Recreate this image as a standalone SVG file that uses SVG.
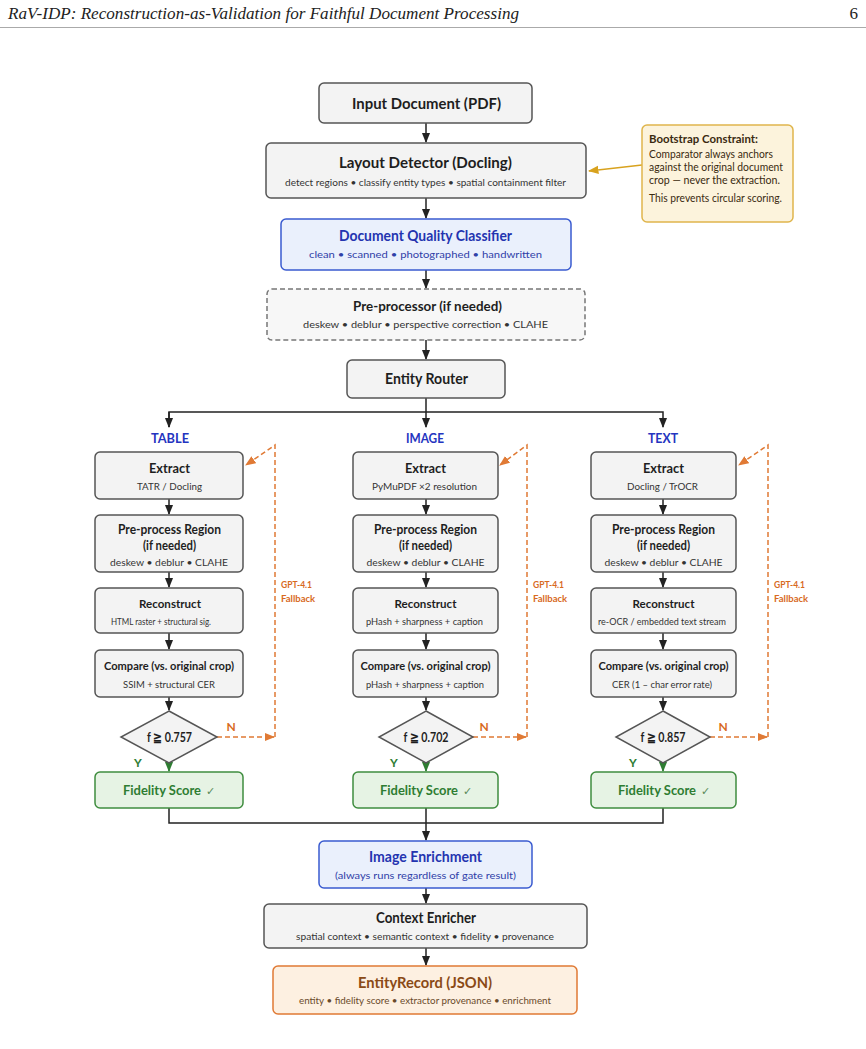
<svg xmlns="http://www.w3.org/2000/svg" width="866" height="1049" viewBox="0 0 866 1049" xml:space="preserve">
<defs>
<style>
.hdr{font-family:"Liberation Serif",serif;font-style:italic;font-size:17px;fill:#222}
.box{fill:#f3f3f3;stroke:#555;stroke-width:1.5}
.blue{fill:#eaf0fc;stroke:#3a5bd0;stroke-width:1.5}
.green{fill:#e6f3e4;stroke:#3f8d3f;stroke-width:1.5}
.orange{fill:#fdf0e1;stroke:#e07a35;stroke-width:1.5}
.note{fill:#fcf3dc;stroke:#dfb54c;stroke-width:1.5}
.t{font-family:Lato,"Open Sans",sans-serif;font-weight:bold;fill:#1e1e1e;text-anchor:middle}
.s{font-family:Lato,"Open Sans",sans-serif;fill:#333;text-anchor:middle;font-size:10px}
.bt{fill:#2434b0}
.bs{fill:#3040a8}
.gt{fill:#2e7d32}
.fs{font-family:Lato,"Open Sans",sans-serif;font-weight:bold;font-size:13.5px;fill:#2e7d32}
.chk{font-family:"DejaVu Sans",sans-serif;font-size:11px;fill:#5a8a5a}
.ot{fill:#8a4a16}
.os{fill:#6a4a2a}
.lab{font-family:Lato,"Open Sans",sans-serif;font-weight:bold;font-size:14px;fill:#2434c0;text-anchor:middle}
.gpt{font-family:Lato,"Open Sans",sans-serif;font-weight:bold;font-size:9.5px;fill:#d86a1e}
.N{font-family:Lato,"Open Sans",sans-serif;font-weight:bold;font-size:12px;fill:#d86a1e;text-anchor:middle}
.Y{font-family:Lato,"Open Sans",sans-serif;font-weight:bold;font-size:12px;fill:#2e7d32;text-anchor:middle}
.ln{fill:none;stroke:#222;stroke-width:1.5}
.dash{fill:none;stroke:#e07a35;stroke-width:1.5;stroke-dasharray:5 3}
.nt{font-family:Lato,"Open Sans",sans-serif;font-size:11px;fill:#3a2a10}
</style>
<marker id="ab" viewBox="0 0 10 10" refX="9" refY="5" markerWidth="7" markerHeight="7" orient="auto"><path d="M0,1 L10,5 L0,9 z" fill="#222"/></marker>
<marker id="ag" viewBox="0 0 10 10" refX="9" refY="5" markerWidth="7" markerHeight="7" orient="auto"><path d="M0,1 L10,5 L0,9 z" fill="#2e7d32"/></marker>
<marker id="ao" viewBox="0 0 10 10" refX="9" refY="5" markerWidth="7" markerHeight="7" orient="auto"><path d="M0,1 L10,5 L0,9 z" fill="#e07a35"/></marker>
<marker id="ay" viewBox="0 0 10 10" refX="9" refY="5" markerWidth="7" markerHeight="7" orient="auto"><path d="M0,1 L10,5 L0,9 z" fill="#d8a21e"/></marker>
</defs>
<rect width="866" height="1049" fill="#ffffff"/>
<g id="header">
<text class="hdr" x="8" y="19" textLength="511" lengthAdjust="spacingAndGlyphs">RaV-IDP: Reconstruction-as-Validation for Faithful Document Processing</text>
<text class="hdr" x="858" y="19" text-anchor="end" style="font-style:normal">6</text>
<line x1="0" y1="27.5" x2="866" y2="27.5" stroke="#aaa" stroke-width="1"/>
</g>

<g id="connectors">
<line class="ln" x1="426" y1="123" x2="426" y2="142" marker-end="url(#ab)"/>
<line class="ln" x1="426" y1="198" x2="426" y2="218" marker-end="url(#ab)"/>
<line class="ln" x1="426" y1="270" x2="426" y2="288" marker-end="url(#ab)"/>
<line class="ln" x1="426" y1="340" x2="426" y2="359" marker-end="url(#ab)"/>
<path class="ln" d="M426,398 V412"/>
<path class="ln" d="M169,427 V412 H663 V427" marker-end="url(#ab)"/>
<path class="ln" d="M169,412 V427" marker-end="url(#ab)"/>
<path class="ln" d="M426,412 V427" marker-end="url(#ab)"/>
<line x1="642" y1="165" x2="589" y2="171" stroke="#d8a21e" stroke-width="1.5" marker-end="url(#ay)"/>
<g>
<line class="ln" x1="169" y1="499" x2="169" y2="514" marker-end="url(#ab)"/>
<line class="ln" x1="169" y1="572" x2="169" y2="587" marker-end="url(#ab)"/>
<line class="ln" x1="169" y1="633" x2="169" y2="649" marker-end="url(#ab)"/>
<line class="ln" x1="169" y1="697" x2="169" y2="710" marker-end="url(#ab)"/>
<line x1="169" y1="763" x2="169" y2="771" stroke="#2e7d32" stroke-width="1.5" marker-end="url(#ag)"/>
<path class="dash" d="M217,737 H274" marker-end="url(#ao)"/>
<path class="dash" d="M275,737 V445 L246,465" marker-end="url(#ao)"/>
</g>
<g>
<line class="ln" x1="426" y1="499" x2="426" y2="514" marker-end="url(#ab)"/>
<line class="ln" x1="426" y1="572" x2="426" y2="587" marker-end="url(#ab)"/>
<line class="ln" x1="426" y1="633" x2="426" y2="649" marker-end="url(#ab)"/>
<line class="ln" x1="426" y1="697" x2="426" y2="710" marker-end="url(#ab)"/>
<line x1="426" y1="763" x2="426" y2="771" stroke="#2e7d32" stroke-width="1.5" marker-end="url(#ag)"/>
<path class="dash" d="M473,737 H526" marker-end="url(#ao)"/>
<path class="dash" d="M527,737 V445 L500,465" marker-end="url(#ao)"/>
</g>
<g>
<line class="ln" x1="663" y1="499" x2="663" y2="514" marker-end="url(#ab)"/>
<line class="ln" x1="663" y1="572" x2="663" y2="587" marker-end="url(#ab)"/>
<line class="ln" x1="663" y1="633" x2="663" y2="649" marker-end="url(#ab)"/>
<line class="ln" x1="663" y1="697" x2="663" y2="710" marker-end="url(#ab)"/>
<line x1="663" y1="763" x2="663" y2="771" stroke="#2e7d32" stroke-width="1.5" marker-end="url(#ag)"/>
<path class="dash" d="M710,737 H767" marker-end="url(#ao)"/>
<path class="dash" d="M768,737 V445 L739,465" marker-end="url(#ao)"/>
</g>
<path class="ln" d="M169,808 V823 H663 V808"/>
<line class="ln" x1="426" y1="808" x2="426" y2="840" marker-end="url(#ab)"/>
<line class="ln" x1="426" y1="888" x2="426" y2="903" marker-end="url(#ab)"/>
<line class="ln" x1="426" y1="948" x2="426" y2="965" marker-end="url(#ab)"/>
</g>

<g id="input">
<rect class="box" x="319" y="83" width="213" height="40" rx="5"/>
<text class="t" x="426.5" y="109" font-size="15.5" textLength="149" lengthAdjust="spacingAndGlyphs">Input Document  (PDF)</text>
</g>
<g id="layout">
<rect class="box" x="266" y="143" width="320" height="55" rx="5"/>
<text class="t" x="425.5" y="168" font-size="15.5" textLength="173" lengthAdjust="spacingAndGlyphs">Layout Detector  (Docling)</text>
<text class="s" x="425.5" y="185.5" textLength="281" lengthAdjust="spacingAndGlyphs">detect regions  •  classify entity types  •  spatial containment filter</text>
</g>
<g id="bootstrap">
<rect class="note" x="642" y="125" width="151" height="97" rx="5"/>
<text class="nt" x="649" y="143" font-weight="bold" fill="#3a2208" textLength="109" lengthAdjust="spacingAndGlyphs">Bootstrap Constraint:</text>
<text class="nt" x="649" y="157.5" textLength="124" lengthAdjust="spacingAndGlyphs">Comparator always anchors</text>
<text class="nt" x="649" y="170.5" textLength="134" lengthAdjust="spacingAndGlyphs">against the original document</text>
<text class="nt" x="649" y="183.5" textLength="131" lengthAdjust="spacingAndGlyphs">crop — never the extraction.</text>
<text class="nt" x="649" y="202" textLength="133" lengthAdjust="spacingAndGlyphs">This prevents circular scoring.</text>
</g>
<g id="quality">
<rect class="blue" x="281" y="219" width="290" height="51" rx="5"/>
<text class="t bt" x="425.5" y="241" font-size="14.5" textLength="173" lengthAdjust="spacingAndGlyphs">Document Quality Classifier</text>
<text class="s bs" x="425.5" y="258" textLength="233" lengthAdjust="spacingAndGlyphs">clean  •  scanned  •  photographed  •  handwritten</text>
</g>
<g id="preprocessor">
<rect class="box" x="267" y="289" width="318" height="51" rx="5" style="stroke-dasharray:5 3;stroke:#777;fill:#f7f7f7"/>
<text class="t" x="427.5" y="311" font-size="14" textLength="149" lengthAdjust="spacingAndGlyphs">Pre-processor  (if needed)</text>
<text class="s" x="425.5" y="328" textLength="245" lengthAdjust="spacingAndGlyphs">deskew  •  deblur  •  perspective correction  •  CLAHE</text>
</g>
<g id="router">
<rect class="box" x="347" y="360" width="158" height="38" rx="5"/>
<text class="t" x="426.5" y="384" font-size="15" textLength="83" lengthAdjust="spacingAndGlyphs">Entity Router</text>
</g>

<g id="table-col">
<text class="lab" x="170" y="443" textLength="38" lengthAdjust="spacingAndGlyphs">TABLE</text>
<g id="t-extract"><rect class="box" x="95" y="452" width="148" height="47" rx="5"/>
<text class="t" x="169.5" y="473" font-size="13.5" textLength="41" lengthAdjust="spacingAndGlyphs">Extract</text>
<text class="s" x="169.5" y="489.5" textLength="65" lengthAdjust="spacingAndGlyphs">TATR / Docling</text></g>
<g id="t-pre"><rect class="box" x="95" y="515" width="148" height="57" rx="5"/>
<text class="t" x="169.5" y="534" font-size="12.5" textLength="103" lengthAdjust="spacingAndGlyphs">Pre-process Region</text>
<text class="t" x="169.5" y="550" font-size="12.5" textLength="53" lengthAdjust="spacingAndGlyphs">(if needed)</text>
<text class="s" x="169" y="566" textLength="118" lengthAdjust="spacingAndGlyphs">deskew  •  deblur  •  CLAHE</text></g>
<g id="t-recon"><rect class="box" x="95" y="588" width="148" height="45" rx="5"/>
<text class="t" x="170" y="608" font-size="12" textLength="62" lengthAdjust="spacingAndGlyphs">Reconstruct</text>
<text class="s" x="161" y="624.5" font-size="9" textLength="100" lengthAdjust="spacingAndGlyphs">HTML raster + structural sig.</text></g>
<g id="t-compare"><rect class="box" x="95" y="650" width="148" height="47" rx="5"/>
<text class="t" x="169" y="670" font-size="12" textLength="130" lengthAdjust="spacingAndGlyphs">Compare (vs. original crop)</text>
<text class="s" x="169" y="687.5" font-size="9.5" textLength="92" lengthAdjust="spacingAndGlyphs">SSIM + structural CER</text></g>
<g id="t-gate"><polygon class="box" points="169,711 217,737 169,763 121,737"/>
<text class="t" x="169.5" y="742" font-size="13" textLength="45" lengthAdjust="spacingAndGlyphs">f ≧ 0.757</text></g>
<g id="t-score"><rect class="green" x="95" y="772" width="148" height="36" rx="5"/>
<text class="fs" x="123" y="795" textLength="78" lengthAdjust="spacingAndGlyphs">Fidelity Score</text>
<text class="chk" x="206" y="794.5">✓</text></g>
<text class="N" x="231" y="731">N</text>
<text class="Y" x="138" y="767">Y</text>
<text class="gpt" x="281" y="588" textLength="31" lengthAdjust="spacingAndGlyphs">GPT-4.1</text>
<text class="gpt" x="281" y="602">Fallback</text>
</g>

<g id="image-col">
<text class="lab" x="425" y="443" textLength="38" lengthAdjust="spacingAndGlyphs">IMAGE</text>
<g id="i-extract"><rect class="box" x="353" y="452" width="145" height="47" rx="5"/>
<text class="t" x="425.5" y="473" font-size="13.5" textLength="41" lengthAdjust="spacingAndGlyphs">Extract</text>
<text class="s" x="424.5" y="489.5" textLength="105" lengthAdjust="spacingAndGlyphs">PyMuPDF  ×2 resolution</text></g>
<g id="i-pre"><rect class="box" x="353" y="515" width="145" height="57" rx="5"/>
<text class="t" x="425.5" y="534" font-size="12.5" textLength="103" lengthAdjust="spacingAndGlyphs">Pre-process Region</text>
<text class="t" x="425.5" y="550" font-size="12.5" textLength="53" lengthAdjust="spacingAndGlyphs">(if needed)</text>
<text class="s" x="425.5" y="566" textLength="118" lengthAdjust="spacingAndGlyphs">deskew  •  deblur  •  CLAHE</text></g>
<g id="i-recon"><rect class="box" x="353" y="588" width="145" height="45" rx="5"/>
<text class="t" x="425.5" y="608" font-size="12" textLength="62" lengthAdjust="spacingAndGlyphs">Reconstruct</text>
<text class="s" x="424.5" y="624.5" font-size="9" textLength="117" lengthAdjust="spacingAndGlyphs">pHash + sharpness + caption</text></g>
<g id="i-compare"><rect class="box" x="353" y="650" width="145" height="47" rx="5"/>
<text class="t" x="425.5" y="670" font-size="12" textLength="130" lengthAdjust="spacingAndGlyphs">Compare (vs. original crop)</text>
<text class="s" x="425" y="687.5" font-size="9.5" textLength="118" lengthAdjust="spacingAndGlyphs">pHash + sharpness + caption</text></g>
<g id="i-gate"><polygon class="box" points="426,711 473,737 426,763 379,737"/>
<text class="t" x="426" y="742" font-size="13" textLength="45" lengthAdjust="spacingAndGlyphs">f ≧ 0.702</text></g>
<g id="i-score"><rect class="green" x="353" y="772" width="145" height="36" rx="5"/>
<text class="fs" x="380" y="795" textLength="78" lengthAdjust="spacingAndGlyphs">Fidelity Score</text>
<text class="chk" x="463" y="794.5">✓</text></g>
<text class="N" x="484" y="731">N</text>
<text class="Y" x="394" y="767">Y</text>
<text class="gpt" x="533" y="588" textLength="31" lengthAdjust="spacingAndGlyphs">GPT-4.1</text>
<text class="gpt" x="533" y="602">Fallback</text>
</g>

<g id="text-col">
<text class="lab" x="663" y="443" textLength="30" lengthAdjust="spacingAndGlyphs">TEXT</text>
<g id="x-extract"><rect class="box" x="591" y="452" width="145" height="47" rx="5"/>
<text class="t" x="663.5" y="473" font-size="13.5" textLength="41" lengthAdjust="spacingAndGlyphs">Extract</text>
<text class="s" x="662.5" y="489.5" textLength="71" lengthAdjust="spacingAndGlyphs">Docling / TrOCR</text></g>
<g id="x-pre"><rect class="box" x="591" y="515" width="145" height="57" rx="5"/>
<text class="t" x="663.5" y="534" font-size="12.5" textLength="103" lengthAdjust="spacingAndGlyphs">Pre-process Region</text>
<text class="t" x="663.5" y="550" font-size="12.5" textLength="53" lengthAdjust="spacingAndGlyphs">(if needed)</text>
<text class="s" x="663.5" y="566" textLength="118" lengthAdjust="spacingAndGlyphs">deskew  •  deblur  •  CLAHE</text></g>
<g id="x-recon"><rect class="box" x="591" y="588" width="145" height="45" rx="5"/>
<text class="t" x="663.5" y="608" font-size="12" textLength="62" lengthAdjust="spacingAndGlyphs">Reconstruct</text>
<text class="s" x="662" y="624.5" font-size="9" textLength="128" lengthAdjust="spacingAndGlyphs">re-OCR / embedded text stream</text></g>
<g id="x-compare"><rect class="box" x="591" y="650" width="145" height="47" rx="5"/>
<text class="t" x="663.5" y="670" font-size="12" textLength="130" lengthAdjust="spacingAndGlyphs">Compare (vs. original crop)</text>
<text class="s" x="662" y="687.5" font-size="9.5" textLength="100" lengthAdjust="spacingAndGlyphs">CER (1 – char error rate)</text></g>
<g id="x-gate"><polygon class="box" points="663,711 710,737 663,763 616,737"/>
<text class="t" x="663" y="742" font-size="13" textLength="45" lengthAdjust="spacingAndGlyphs">f ≧ 0.857</text></g>
<g id="x-score"><rect class="green" x="591" y="772" width="145" height="36" rx="5"/>
<text class="fs" x="618" y="795" textLength="78" lengthAdjust="spacingAndGlyphs">Fidelity Score</text>
<text class="chk" x="701" y="794.5">✓</text></g>
<text class="N" x="723" y="731">N</text>
<text class="Y" x="633" y="767">Y</text>
<text class="gpt" x="774" y="588" textLength="31" lengthAdjust="spacingAndGlyphs">GPT-4.1</text>
<text class="gpt" x="774" y="602">Fallback</text>
</g>

<g id="enrichment">
<rect class="blue" x="319" y="841" width="213" height="47" rx="5"/>
<text class="t bt" x="425.5" y="862" font-size="14.5" textLength="113" lengthAdjust="spacingAndGlyphs">Image Enrichment</text>
<text class="s bs" x="425.5" y="878.5" font-size="10.5" textLength="181" lengthAdjust="spacingAndGlyphs">(always runs regardless of gate result)</text>
</g>
<g id="context">
<rect class="box" x="264" y="904" width="323" height="44" rx="5"/>
<text class="t" x="426" y="923" font-size="14.5" textLength="100" lengthAdjust="spacingAndGlyphs">Context Enricher</text>
<text class="s" x="425" y="939.5" textLength="258" lengthAdjust="spacingAndGlyphs">spatial context  •  semantic context  •  fidelity  •  provenance</text>
</g>
<g id="record">
<rect class="orange" x="273" y="966" width="304" height="48" rx="5"/>
<text class="t ot" x="425" y="988" font-size="15" textLength="134" lengthAdjust="spacingAndGlyphs">EntityRecord  (JSON)</text>
<text class="s os" x="425" y="1004" font-size="9.5" textLength="252" lengthAdjust="spacingAndGlyphs">entity  •  fidelity score  •  extractor provenance  •  enrichment</text>
</g>
</svg>
